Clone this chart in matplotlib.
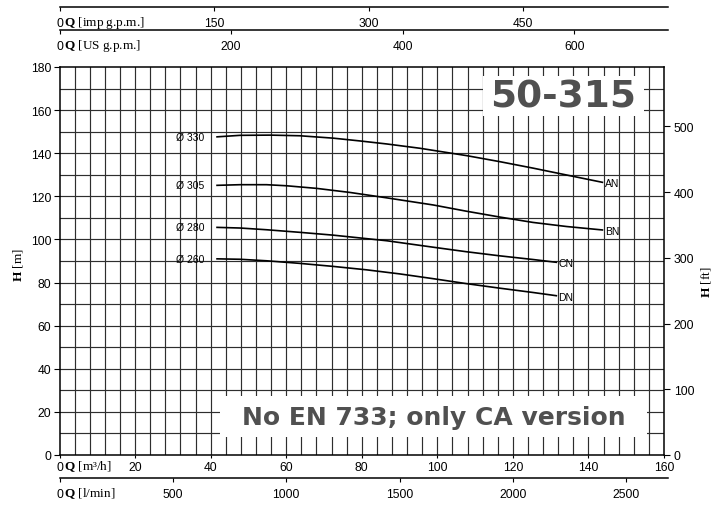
import matplotlib
matplotlib.use("Agg")
import matplotlib.pyplot as plt
import numpy as np

# ---------------- data ----------------
q_AN = [41.7, 47.8, 55.9, 63.6, 72.4, 79.5, 86.6, 95.4, 107.7, 116.5, 125.3, 134.2, 143.7]
h_AN = [147.6, 148.3, 148.4, 148.1, 147.0, 145.7, 144.3, 142.3, 138.9, 136.1, 133.1, 129.9, 126.5]
q_BN = [41.7, 47.8, 54.8, 60.1, 68.0, 76.9, 86.6, 98.9, 107.7, 116.5, 125.3, 134.2, 143.7]
h_BN = [125.1, 125.4, 125.4, 124.9, 123.7, 121.8, 119.3, 116.0, 113.1, 110.4, 107.9, 106.0, 104.4]
q_CN = [41.7, 47.8, 54.8, 63.6, 72.4, 79.5, 86.6, 98.9, 107.7, 116.5, 125.3, 131.5]
h_CN = [105.6, 105.3, 104.5, 103.3, 102.0, 100.7, 99.4, 96.4, 94.3, 92.4, 90.7, 89.4]
q_DN = [41.7, 47.8, 54.8, 63.6, 72.4, 81.3, 90.1, 98.9, 107.7, 116.5, 125.3, 131.5]
h_DN = [91.0, 90.8, 90.1, 88.9, 87.5, 85.9, 84.0, 81.8, 79.5, 77.4, 75.4, 73.9]

curve_names = ["AN", "BN", "CN", "DN"]
diam_labels = ["Ø 330", "Ø 305", "Ø 280", "Ø 260"]

y_ticks_m = [0, 20, 40, 60, 80, 100, 120, 140, 160, 180]
y_ticks_ft = [0, 100, 200, 300, 400, 500]
x_ticks_m3h = [0, 20, 40, 60, 80, 100, 120, 140, 160]
x_ticks_lmin = [0, 500, 1000, 1500, 2000, 2500]
x_ticks_usgpm = [0, 200, 400, 600]
x_ticks_impgpm = [0, 150, 300, 450]

title_text = "50-315"
note_text = "No EN 733; only CA version"

# conversion factors
M3H_TO_LMIN = 1000 / 60.0
M3H_TO_USGPM = 4.40287
M3H_TO_IMPGPM = 3.66615
M_TO_FT = 1 / 0.3048

# ---------------- style ----------------
plt.rcParams['mathtext.fontset'] = 'custom'
plt.rcParams['mathtext.rm'] = 'Liberation Serif'
plt.rcParams['mathtext.bf'] = 'Liberation Serif:bold'
SANS = 'Liberation Sans'
SERIF = 'Liberation Serif'
TICK_FS = 8.7

W, H = 724, 506
fig = plt.figure(figsize=(W / 100, H / 100), dpi=100)

def fx(px):
    return px / W

def fy(py):
    return (H - py) / H

L, R, T, B = 59.5, 664.0, 68.0, 456.0
ax = fig.add_axes([fx(L), fy(B), fx(R) - fx(L), fy(T) - fy(B)])
XMAX, YMAX = 160, 180
ax.set_xlim(0, XMAX)
ax.set_ylim(0, YMAX)

# grid
grid_col = '#2e2e2e'
for xv in np.arange(4, XMAX, 4):
    ax.axvline(xv, color=grid_col, lw=0.85, zorder=1)
for yv in np.arange(10, YMAX, 10):
    ax.axhline(yv, color=grid_col, lw=0.85, zorder=1)

for s in ax.spines.values():
    s.set_color('black')
    s.set_linewidth(1.1)

ax.set_yticks(y_ticks_m)
ax.set_yticklabels([str(v) for v in y_ticks_m], fontfamily=SANS, fontsize=TICK_FS)
ax.tick_params(axis='y', direction='out', length=4, width=0.8, pad=2)
ax.set_xticks(x_ticks_m3h)
ax.set_xticklabels([str(v) for v in x_ticks_m3h], fontfamily=SANS, fontsize=TICK_FS)
ax.tick_params(axis='x', direction='out', length=2, width=0.8, pad=2)

# curves
curves = [(q_AN, h_AN), (q_BN, h_BN), (q_CN, h_CN), (q_DN, h_DN)]
for (q, h), nm, dl in zip(curves, curve_names, diam_labels):
    ax.plot(q, h, color='black', lw=1.2, zorder=3, solid_joinstyle='round')
    ax.text(q[0] - 3.3, h[0], dl, ha='right', va='center', fontfamily=SANS,
            fontsize=7.5, zorder=4)
    ax.text(q[-1] + 0.6, h[-1] - 0.4, nm, ha='left', va='center', fontfamily=SANS,
            fontsize=7.5, zorder=4)

# title box
ax.add_patch(plt.Rectangle((112, 157.2), 154.6 - 112, 175.8 - 157.2,
                           facecolor='white', edgecolor='none', zorder=5))
ax.text(133.3, 166.5, title_text, ha='center', va='center', fontfamily='DejaVu Sans',
        fontweight='bold', fontsize=27, color='#505050', zorder=6)

# note box
ax.add_patch(plt.Rectangle((42.5, 8.5), 155.4 - 42.5, 27.5 - 8.5,
                           facecolor='white', edgecolor='none', zorder=5))
ax.text(99.0, 17.6, note_text, ha='center', va='center', fontfamily='DejaVu Sans',
        fontweight='bold', fontsize=18, color='#505050', zorder=6)

# right axis in feet
axr = ax.twinx()
axr.set_ylim(0, YMAX * M_TO_FT)
axr.set_yticks(y_ticks_ft)
axr.set_yticklabels([str(v) for v in y_ticks_ft], fontfamily=SANS, fontsize=TICK_FS)
axr.tick_params(axis='y', direction='out', length=4, width=0.8, pad=3)
for s in axr.spines.values():
    s.set_visible(False)

# axis titles
fig.text(fx(18), fy(265), r'$\mathbf{H}$ [m]', rotation=90, ha='center', va='center',
         fontfamily=SERIF, fontsize=9.5)
fig.text(fx(706), fy(282), r'$\mathbf{H}$ [ft]', rotation=90, ha='center', va='center',
         fontfamily=SERIF, fontsize=9.5)

# secondary flow scales
LINE_R = 668.0
def scale_axis(py_line, factor, ticks, label, label_py):
    a = fig.add_axes([fx(L), fy(py_line), fx(LINE_R) - fx(L), 0.0001])
    a.set_xlim(0, XMAX * factor * (LINE_R - L) / (R - L))
    a.set_ylim(0, 1)
    a.patch.set_visible(False)
    for k, s in a.spines.items():
        s.set_visible(k == 'bottom')
    a.spines['bottom'].set_linewidth(1.1)
    a.set_yticks([])
    a.set_xticks(ticks)
    a.set_xticklabels([str(v) for v in ticks], fontfamily=SANS, fontsize=TICK_FS)
    a.tick_params(axis='x', direction='out', length=3, width=0.8, pad=4)
    fig.text(fx(64), fy(label_py), r'$\mathbf{Q}$ ' + label, ha='left', va='center',
             fontfamily=SERIF, fontsize=9.5)
    return a

scale_axis(8, M3H_TO_IMPGPM, x_ticks_impgpm, '[imp g.p.m.]', 23)
scale_axis(31, M3H_TO_USGPM, x_ticks_usgpm, '[US g.p.m.]', 46)
scale_axis(479, M3H_TO_LMIN, x_ticks_lmin, '[l/min]', 494)
fig.text(fx(64), fy(467), r'$\mathbf{Q}$ [m³/h]', ha='left', va='center',
         fontfamily=SERIF, fontsize=9.5)

fig.savefig('out.png', dpi=100)
